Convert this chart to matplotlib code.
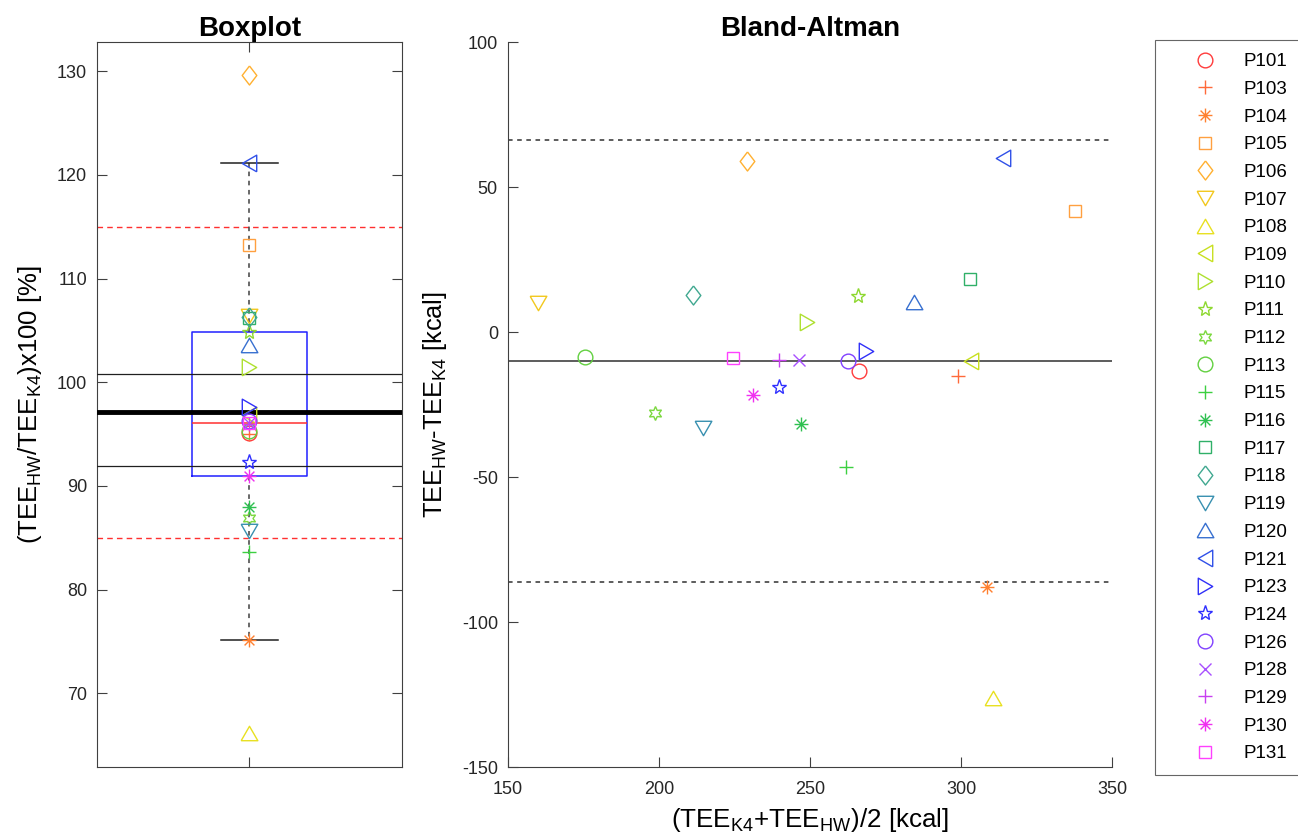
import numpy as np
import matplotlib
matplotlib.use("Agg")
import matplotlib.pyplot as plt
from matplotlib.path import Path

# ===============================
# CONFIGURAÇÕES GERAIS
# ===============================
plt.rcParams['font.family'] = ['Liberation Sans', 'DejaVu Sans']
plt.rcParams['mathtext.fontset'] = 'custom'
plt.rcParams['mathtext.rm'] = 'Liberation Sans'
plt.rcParams['mathtext.it'] = 'Liberation Sans'
plt.rcParams['axes.unicode_minus'] = False
plt.rcParams['axes.edgecolor'] = '#404040'
plt.rcParams['xtick.color'] = '#404040'
plt.rcParams['ytick.color'] = '#404040'
plt.rcParams['xtick.labelcolor'] = '#262626'
plt.rcParams['ytick.labelcolor'] = '#262626'

# ===============================
# DADOS
# ===============================
participants = ['P101', 'P103', 'P104', 'P105', 'P106', 'P107', 'P108', 'P109',
                'P110', 'P111', 'P112', 'P113', 'P115', 'P116', 'P117', 'P118',
                'P119', 'P120', 'P121', 'P123', 'P124', 'P126', 'P128', 'P129',
                'P130', 'P131']

# Bland-Altman: media (TEE_K4+TEE_HW)/2 e diferenca TEE_HW-TEE_K4 [kcal]
ba_mean = [266.3, 299.1, 308.7, 337.7, 229.1, 160.1, 310.6, 303.4,
           249.0, 265.8, 198.7, 175.6, 261.8, 247.2, 303.0, 211.3,
           214.6, 284.5, 313.9, 268.6, 239.9, 262.6, 246.4, 239.6,
           231.0, 224.4]
ba_diff = [-13.4, -15.2, -87.9, 41.8, 59.0, 9.9, -126.1, -9.9,
           3.6, 12.5, -27.8, -8.5, -46.7, -31.6, 18.3, 12.9,
           -33.0, 10.2, 59.9, -6.6, -19.1, -10.0, -9.7, -9.7,
           -21.7, -8.9]

# Razao (TEE_HW/TEE_K4)x100 [%]
ratio = [95.1, 95.0, 75.1, 113.2, 129.6, 106.4, 66.2, 96.8,
         101.5, 104.8, 86.9, 95.3, 83.6, 88.0, 106.2, 106.3,
         85.7, 103.6, 121.1, 97.6, 92.3, 96.3, 96.1, 96.0,
         91.0, 96.1]

ba_bias = -9.95
ba_loa = [66.2, -86.1]
ratio_mean = 97.14
ratio_ci = [100.84, 91.93]
ratio_limits = [115, 85]

colors = ['#FF3B3B', '#FF6A3A', '#FF8030', '#FFA040', '#FFB030', '#F2C81E',
          '#E8E020', '#C8E020', '#AEE030', '#8ED830', '#7CD840', '#62D040',
          '#3CD040', '#2EC050', '#30B068', '#40A890', '#3890B0', '#3870D0',
          '#3050E8', '#3030F8', '#3030FF', '#8040FF', '#A850FF', '#C840F0',
          '#F030F0', '#FF40FF']

# ===============================
# MARCADORES (estilo MATLAB)
# ===============================
M, L = Path.MOVETO, Path.LINETO
asterisk = Path([(-1, 0), (1, 0), (0, -1), (0, 1), (-.707, -.707), (.707, .707),
                 (-.707, .707), (.707, -.707)], [M, L, M, L, M, L, M, L])
diamond = [(0, 1), (0.77, 0), (0, -1), (-0.77, 0), (0, 1)]
tri_up = [(-1, -0.866), (1, -0.866), (0, 0.866), (-1, -0.866)]
tri_down = [(-1, 0.866), (1, 0.866), (0, -0.866), (-1, 0.866)]
tri_left = [(0.866, -1), (0.866, 1), (-0.866, 0), (0.866, -1)]
tri_right = [(-0.866, -1), (-0.866, 1), (0.866, 0), (-0.866, -1)]

mk = {'o': ('o', 10.6), '+': ('+', 10), '*': (asterisk, 10), 's': ('s', 8.4),
      'd': (diamond, 13.7), 'v': (tri_down, 12), '^': (tri_up, 12),
      '<': (tri_left, 12), '>': (tri_right, 12), 'p': ('*', 11),
      'h': ((6, 1, 0), 10), 'x': ('x', 8.5)}
marker_codes = ['o', '+', '*', 's', 'd', 'v', '^', '<', '>', 'p', 'h', 'o', '+',
                '*', 's', 'd', 'v', '^', '<', '>', 'p', 'o', 'x', '+', '*', 's']

fig = plt.figure(figsize=(12.98, 8.4), dpi=100)
ax1 = fig.add_axes([0.0747, 0.0869, 0.235, 0.863])
ax2 = fig.add_axes([0.3911, 0.0869, 0.4658, 0.863])

# ===============================
# BOXPLOT
# ===============================
r = np.array(ratio)
q1, med, q3 = np.percentile(r, [25, 50, 75], method='hazen')
iqr = q3 - q1
whislo = r[r >= q1 - 1.5 * iqr].min()
whishi = r[r <= q3 + 1.5 * iqr].max()
stats = [dict(med=med, q1=q1, q3=q3, whislo=whislo, whishi=whishi, fliers=[])]

for y in ratio_limits:
    ax1.axhline(y, color='#FF3030', lw=1, ls=(0, (4, 3)), zorder=1)
ax1.bxp(stats, positions=[1], widths=0.374, capwidths=0.185, showfliers=False,
        boxprops=dict(color='#2020FF', lw=1.1),
        medianprops=dict(color='#FF3030', lw=1.1),
        whiskerprops=dict(color='#404040', lw=1.1, ls=(0, (3, 3))),
        capprops=dict(color='#202020', lw=1.1), manage_ticks=False)
ax1.axhline(ratio_mean, color='black', lw=3.5, zorder=3)
for y in ratio_ci:
    ax1.axhline(y, color='#202020', lw=0.9, zorder=3)

for i, p in enumerate(participants):
    m, s = mk[marker_codes[i]]
    ax1.plot(1, ratio[i], linestyle='none', marker=m, markersize=s,
             markerfacecolor='none', markeredgecolor=colors[i], mew=1.0, zorder=4)

ax1.set_xlim(0.5, 1.5)
ax1.set_ylim(62.9, 132.8)
ax1.set_xticks([1])
ax1.set_xticklabels([''])
ax1.set_yticks(np.arange(70, 131, 10))
ax1.tick_params(direction='in', length=7, top=True, right=True, labelsize=13, pad=7)
ax1.set_title('Boxplot', fontsize=20, fontweight='bold', pad=3)
ax1.set_ylabel(r'(TEE$_{\mathrm{HW}}$/TEE$_{\mathrm{K4}}$)x100 [%]', fontsize=18.5,
               labelpad=9)

# ===============================
# BLAND-ALTMAN
# ===============================
handles = []
for i, p in enumerate(participants):
    m, s = mk[marker_codes[i]]
    h, = ax2.plot(ba_mean[i], ba_diff[i], linestyle='none', marker=m, markersize=s,
                  markerfacecolor='none', markeredgecolor=colors[i], mew=1.0,
                  label=p, zorder=4)
    handles.append(h)

ax2.axhline(ba_bias, color='#303030', lw=1.1, zorder=2)
for y in ba_loa:
    ax2.axhline(y, color='#303030', lw=1.1, ls=(0, (3, 3)), zorder=2)

ax2.set_xlim(150, 350)
ax2.set_ylim(-150, 100)
ax2.set_xticks(np.arange(150, 351, 50))
ax2.set_yticks(np.arange(-150, 101, 50))
ax2.spines['top'].set_visible(False)
ax2.spines['right'].set_visible(False)
ax2.tick_params(direction='in', length=7, labelsize=13)
ax2.tick_params(axis='x', pad=10)
ax2.tick_params(axis='y', pad=7)
ax2.set_title('Bland-Altman', fontsize=20, fontweight='bold', pad=3)
ax2.set_ylabel(r'TEE$_{\mathrm{HW}}$-TEE$_{\mathrm{K4}}$ [kcal]', fontsize=18.3,
               labelpad=9.5)
ax2.set_xlabel(r'(TEE$_{\mathrm{K4}}$+TEE$_{\mathrm{HW}}$)/2 [kcal]', fontsize=18.7,
               labelpad=6)

leg = fig.legend(handles=handles, loc='upper left',
                 bbox_to_anchor=(1155 / 1298, 800 / 840), fontsize=13.5,
                 frameon=True, fancybox=False, edgecolor='#404040',
                 labelspacing=0.563, handletextpad=0.1, borderpad=0.7,
                 handlelength=3.9, borderaxespad=0)
leg.get_frame().set_linewidth(0.8)

fig.savefig('out.png', dpi=100)
